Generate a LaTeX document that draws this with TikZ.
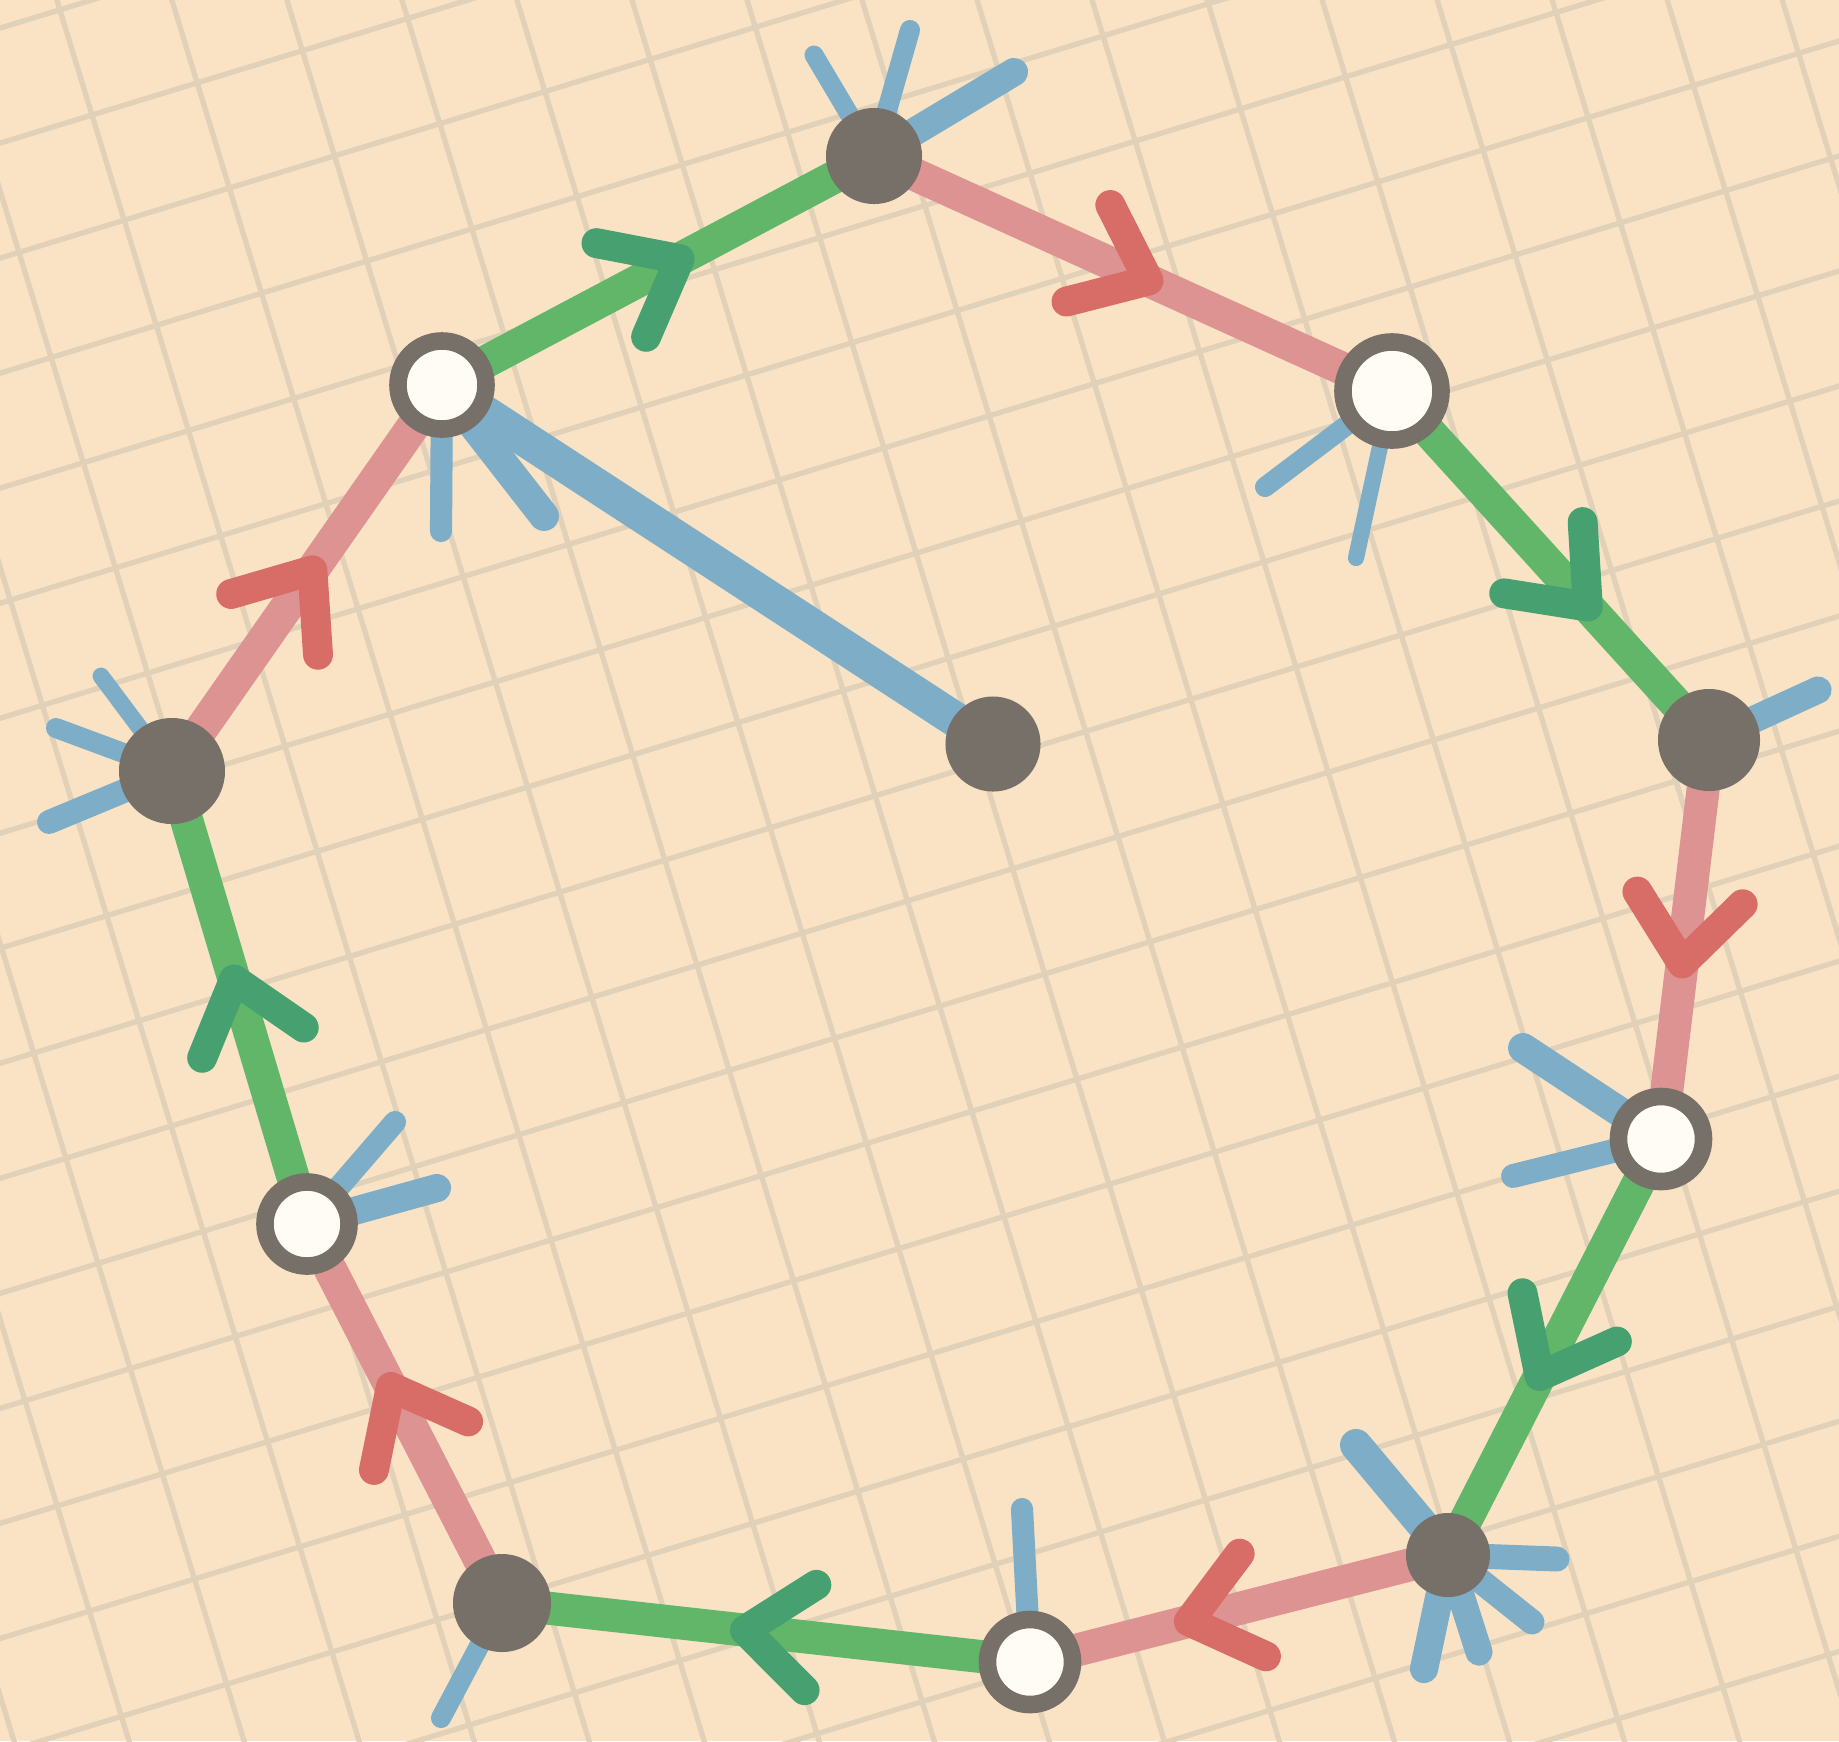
\documentclass[tikz,border=0pt]{standalone}
\usetikzlibrary{decorations.markings}

\definecolor{papel}{RGB}{249,227,196}
\definecolor{grelha}{RGB}{225,209,184}
\definecolor{verde}{RGB}{98,182,106}
\definecolor{verdeesc}{RGB}{70,160,111}
\definecolor{rosa}{RGB}{222,147,147}
\definecolor{vermelho}{RGB}{216,108,102}
\definecolor{azul}{RGB}{126,173,200}
\definecolor{cinza}{RGB}{118,112,105}
\definecolor{branco}{RGB}{255,252,245}

\pgfdeclarelayer{fundo}
\pgfdeclarelayer{fios}
\pgfsetlayers{fundo,fios,main}

\tikzset{
  cheio/.style={circle, fill=cinza, inner sep=0pt, minimum size=#1},
  oco/.style={circle, fill=branco, draw=cinza, line width=5pt, inner sep=0pt, minimum size=#1},
  aresta/.style={line width=9.4pt, line cap=round},
  toco/.style={draw=azul, line cap=round},
  ponta/.style={line width=8.5pt, line cap=round, line join=round},
  seta/.style 2 args={postaction={decorate, decoration={markings,
      mark=at position #1 with {\draw[ponta, draw=#2] (-66,53) -- (0,0) -- (-66,-53);}}}}
}

\begin{document}
\begin{tikzpicture}[x=0.01cm, y=-0.01cm]
  \useasboundingbox (0,0) rectangle (1839,1741);
  % papel e grelha
  \begin{pgfonlayer}{fundo}
    \fill[papel] (0,0) rectangle (1839,1741);
    \clip (0,0) rectangle (1839,1741);
    \begin{scope}[shift={(92,115)}, rotate=17]
      \foreach \xk in {-15,...,25} {
        \draw[grelha, line width=1.5pt] (\xk*110,-3000) -- (\xk*110,3000);
        \draw[grelha, line width=1.5pt] (-3000,\xk*110) -- (3000,\xk*110);
      }
    \end{scope}
  \end{pgfonlayer}

  % vertices
  \node[cheio=0.96cm] (n1) at (874,156) {};
  \node[oco=0.88cm] (n2) at (442,385) {};
  \node[oco=0.98cm] (n3) at (1392,391) {};
  \node[cheio=1.06cm] (n4) at (172,771) {};
  \node[cheio=1.02cm] (n5) at (1709,740) {};
  \node[cheio=0.95cm] (n6) at (993,744) {};
  \node[oco=0.85cm] (n7) at (1661,1139) {};
  \node[oco=0.84cm] (n8) at (307,1224) {};
  \node[cheio=0.84cm] (n9) at (1448,1555) {};
  \node[cheio=0.98cm] (n10) at (502,1603) {};
  \node[oco=0.85cm] (n11) at (1030,1662) {};

  \begin{pgfonlayer}{fios}
    % meias-arestas azuis (vertice/nome/dx/dy/espessura)
    \foreach \xn/\xk/\xdx/\xdy/\xw in {
      n1/a/-60/-101/5.4, n1/b/36/-126/5.7, n1/c/140/-84/8.0,
      n2/a/-1/146/6.3, n2/b/102/131/8.5,
      n3/a/-127/96/5.7, n3/b/-36/167/4.6,
      n4/a/-71/-95/4.8, n4/b/-116/-43/5.7, n4/c/-123/51/6.8,
      n5/a/109/-50/7.7,
      n7/a/-138/-91/8.5, n7/b/-148/37/6.8,
      n8/a/88/-102/6.3, n8/b/130/-36/8.0,
      n9/a/-92/-110/9.1, n9/b/109/4/7.1, n9/c/84/67/7.1, n9/d/31/97/7.7, n9/e/-24/114/8.0,
      n10/a/-61/115/5.7,
      n11/a/-8/-153/6.3}
    {
      \path (\xn.center) ++(\xdx,\xdy) coordinate (\xn-\xk);
      \draw[toco, line width=\xw pt] (\xn.center) -- (\xn-\xk);
    }
    % a aresta azul inteira
    \draw[toco, line width=10pt] (n2.center) -- (n6.center);
    % o ciclo, verde e rosa alternados
    \foreach \xa/\xb/\xcor/\xseta/\xpos in {
      n2/n1/verde/verdeesc/0.55, n1/n3/rosa/vermelho/0.53,
      n3/n5/verde/verdeesc/0.62, n5/n7/rosa/vermelho/0.56,
      n7/n9/verde/verdeesc/0.57, n9/n11/rosa/vermelho/0.62,
      n11/n10/verde/verdeesc/0.54, n10/n8/rosa/vermelho/0.57,
      n8/n4/verde/verdeesc/0.54, n4/n2/rosa/vermelho/0.52}
    {
      \draw[aresta, draw=\xcor, seta={\xpos}{\xseta}] (\xa.center) -- (\xb.center);
    }
  \end{pgfonlayer}
\end{tikzpicture}
\end{document}
